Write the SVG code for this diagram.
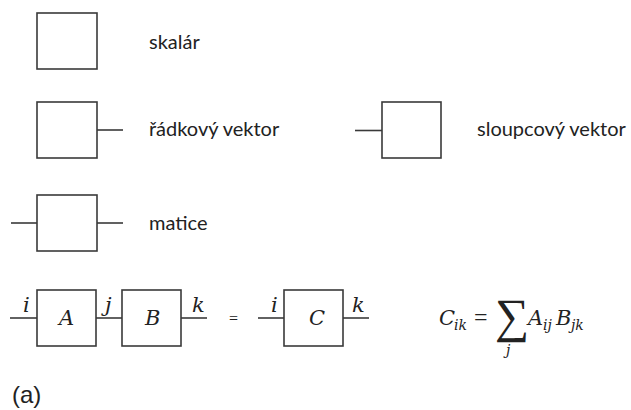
<svg xmlns="http://www.w3.org/2000/svg" width="631" height="410" viewBox="0 0 631 410">
<style>
.box{fill:#fff;stroke:#3a3a3a;stroke-width:1.6}
.ln{stroke:#3a3a3a;stroke-width:1.6;fill:none}
.lbl{font-family:Lato,"Open Sans",sans-serif;font-size:20px;fill:#222}
.m{font-family:"DejaVu Serif",serif;font-style:italic;font-size:21px;fill:#222}
.ms{font-family:"DejaVu Serif",serif;font-style:italic;font-size:14px;fill:#222}
.up{font-family:"Liberation Serif",serif;fill:#222}
.cap{font-family:"Liberation Sans",Arial,sans-serif;font-size:24px;fill:#222}
</style>
<rect width="631" height="410" fill="#fff"/>
<g id="connectors">
<line class="ln" x1="97" y1="130" x2="123" y2="130"/>
<line class="ln" x1="355" y1="130.5" x2="382" y2="130.5"/>
<line class="ln" x1="11" y1="223" x2="37" y2="223"/>
<line class="ln" x1="97" y1="223" x2="123" y2="223"/>
<line class="ln" x1="10" y1="318" x2="37" y2="318"/>
<line class="ln" x1="96" y1="318" x2="122" y2="318"/>
<line class="ln" x1="181" y1="318" x2="207" y2="318"/>
<line class="ln" x1="258" y1="318" x2="284" y2="318"/>
<line class="ln" x1="343" y1="318" x2="369" y2="318"/>
</g>
<g id="scalar"><rect class="box" x="37" y="13" width="60" height="56"/><text class="lbl" x="149" y="49">skalár</text></g>
<g id="row-vector"><rect class="box" x="37" y="102" width="60" height="56"/><text class="lbl" x="149" y="136">řádkový vektor</text></g>
<g id="column-vector"><rect class="box" x="382" y="102" width="59" height="56"/><text class="lbl" x="477" y="136">sloupcový vektor</text></g>
<g id="matrix"><rect class="box" x="37" y="195" width="60" height="56"/><text class="lbl" x="149" y="230">matice</text></g>
<g id="A"><rect class="box" x="37" y="290" width="59" height="56"/><text class="m" x="59" y="325">A</text></g>
<g id="B"><rect class="box" x="122" y="290" width="59" height="56"/><text class="m" x="145" y="325">B</text></g>
<g id="C"><rect class="box" x="284" y="290" width="59" height="56"/><text class="m" x="309" y="325">C</text></g>
<g id="index-labels">
<text class="m" x="23" y="312">i</text>
<text class="m" x="105" y="312">j</text>
<text class="m" x="192" y="312">k</text>
<text class="m" x="271" y="312">i</text>
<text class="m" x="352" y="312">k</text>
<text class="up" x="229" y="324" font-size="16">=</text>
</g>
<g id="formula">
<text class="m" x="439" y="325">C</text>
<text class="ms" x="454" y="330">ik</text>
<text class="up" x="474" y="325" font-size="24">=</text>
<text class="up" x="495" y="332" font-size="48">∑</text>
<text class="ms" x="506" y="355">j</text>
<text class="m" x="528" y="325">A</text>
<text class="ms" x="543" y="330">ij</text>
<text class="m" x="556" y="325">B</text>
<text class="ms" x="571" y="330">jk</text>
</g>
<text class="cap" x="12" y="403">(a)</text>
</svg>
